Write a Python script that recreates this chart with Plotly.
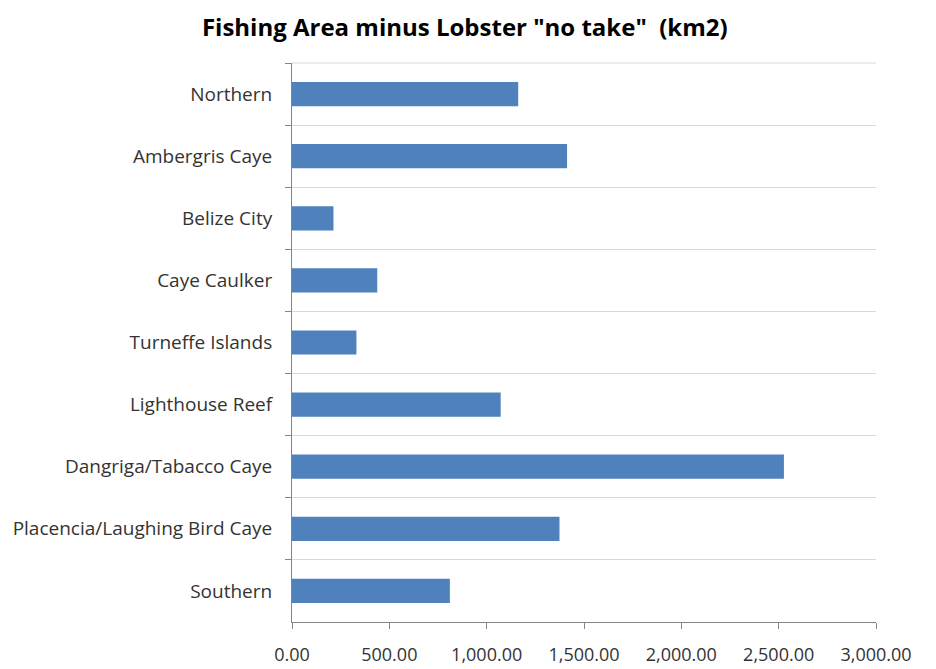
import plotly.graph_objects as go

title_text = 'Fishing Area minus Lobster "no take"  (km2)'
areas = ["Northern", "Ambergris Caye", "Belize City", "Caye Caulker", "Turneffe Islands",
         "Lighthouse Reef", "Dangriga/Tabacco Caye", "Placencia/Laughing Bird Caye", "Southern"]
values_km2 = [1162, 1413, 213, 438, 331, 1072, 2527, 1374, 811]
x_ticks = [0, 500, 1000, 1500, 2000, 2500, 3000]

fig = go.Figure(go.Bar(
    x=values_km2, y=areas, orientation="h",
    marker=dict(color="#4F81BD", line=dict(width=0)),
    width=0.39,
))

font_family = "'Open Sans', Lato, sans-serif"
fig.update_layout(
    width=936, height=669,
    margin=dict(l=284, r=68, t=55, b=55),
    paper_bgcolor="white", plot_bgcolor="white",
    title=dict(text="<b>" + title_text + "</b>", x=0.488, xanchor="center", y=0.971, yanchor="middle",
               font=dict(family=font_family, size=24, color="#000000")),
    showlegend=False,
    font=dict(family=font_family, color="#333333"),
    shapes=[dict(type="line", xref="paper", yref="paper", x0=0, x1=1, y0=1, y1=1,
                 line=dict(color="#d9d9d9", width=1), layer="below")],
)
fig.update_xaxes(
    range=[0, 3000], tickvals=x_ticks, tickformat=",.2f",
    showgrid=False, zeroline=False, automargin=False,
    showline=True, linecolor="#868686", linewidth=1,
    ticks="outside", ticklen=6, tickcolor="#868686",
    tickfont=dict(size=18, color="#333333"),
    ticklabelstandoff=10,
)
fig.update_yaxes(
    categoryorder="array", categoryarray=areas, autorange="reversed", automargin=False,
    tickson="boundaries", showgrid=True, gridcolor="#d9d9d9", gridwidth=1,
    showline=True, linecolor="#868686", linewidth=1,
    ticks="outside", ticklen=6, tickcolor="#868686",
    tickfont=dict(size=19, color="#333333"),
    ticklabelstandoff=15,
)
fig.write_html("out.html")
